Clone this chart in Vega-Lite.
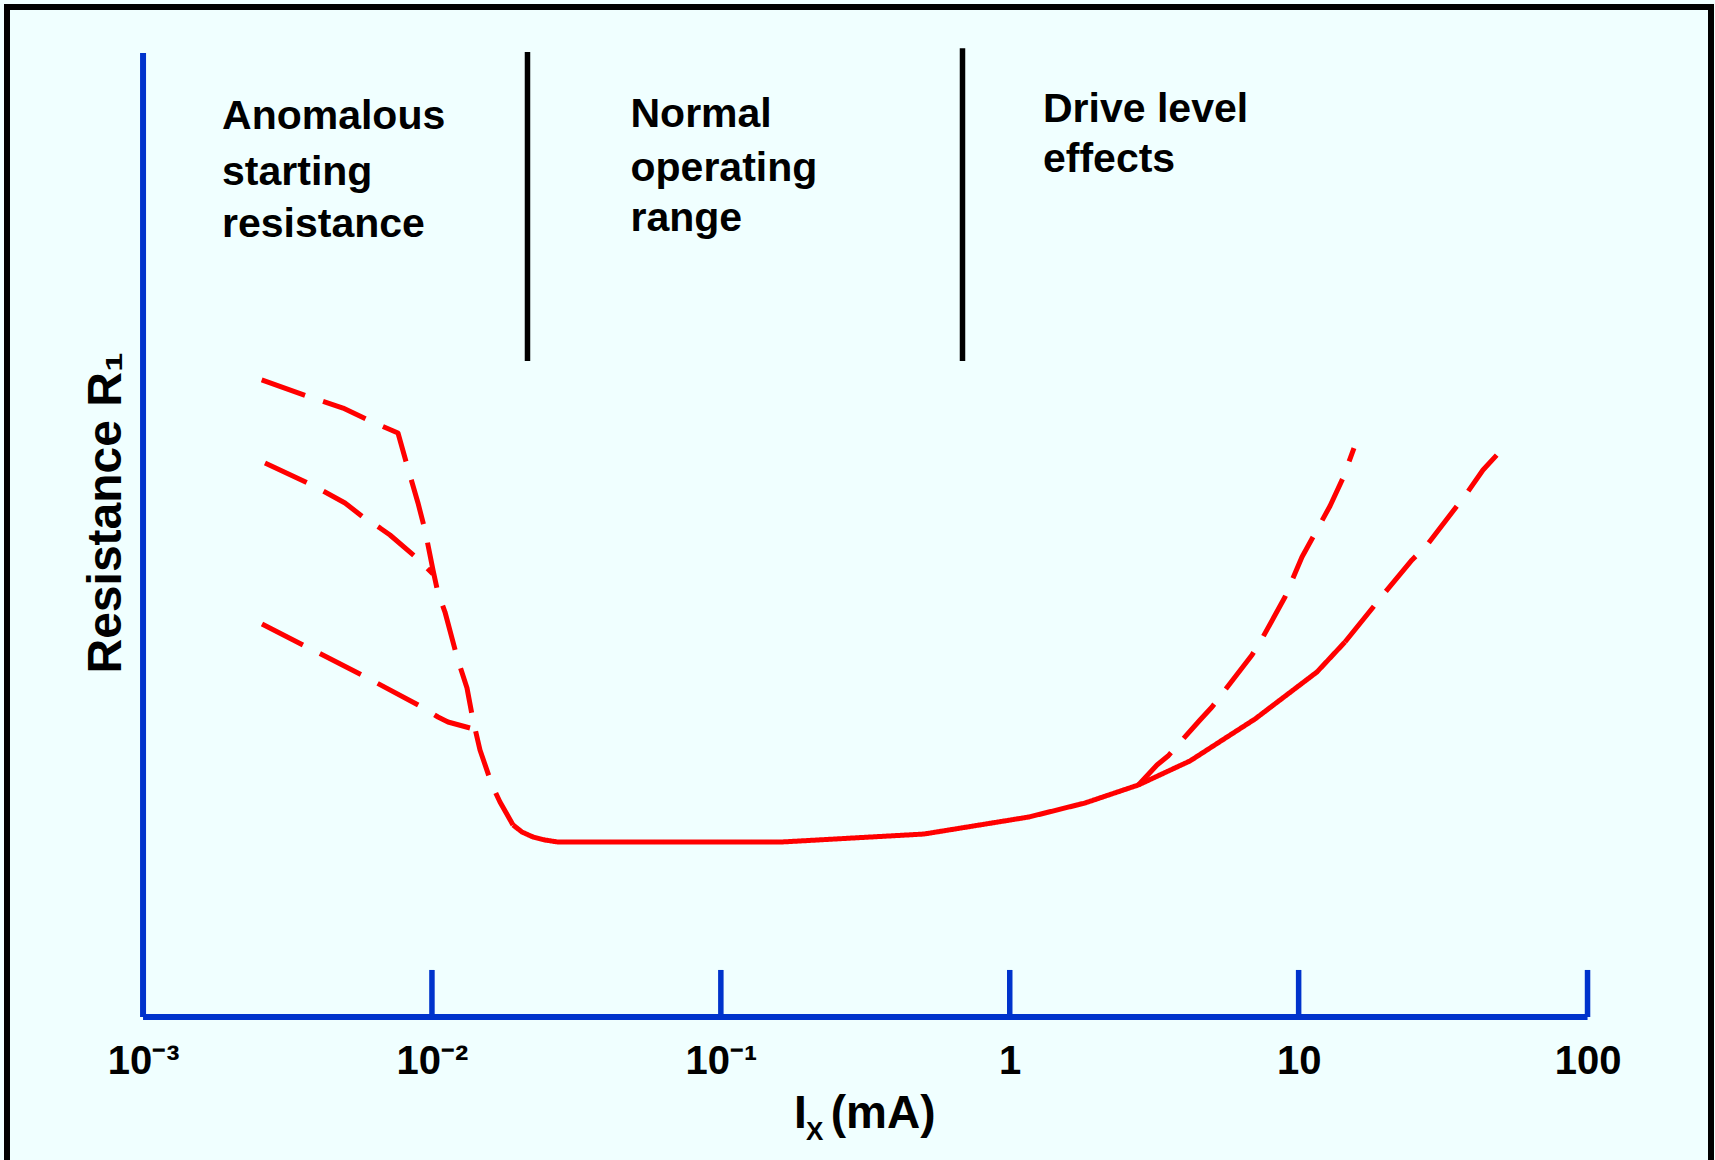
{
  "$schema": "https://vega.github.io/schema/vega-lite/v6.json",
  "width": 1704,
  "height": 1160,
  "autosize": {"type": "none"},
  "padding": {"left": 7, "top": 7, "right": 4, "bottom": -7},
  "background": "#F0FFFF",
  "config": {
    "view": {"stroke": "#000000", "strokeWidth": 6},
    "font": "Liberation Sans"
  },
  "datasets": {
    "axisLines": [
      {"x": 0.001, "x2": 100, "y": 0, "y2": 0},
      {"x": 0.001, "x2": 0.001, "y": 0, "y2": 100}
    ],
    "decadeTicks": [
      {"x": 0.01, "y": 0},
      {"x": 0.1, "y": 0},
      {"x": 1, "y": 0},
      {"x": 10, "y": 0},
      {"x": 100, "y": 0}
    ],
    "regions": [
      {"x": 0.021415, "y": 68.05, "y2": 100.1},
      {"x": 0.68622, "y": 68.05, "y2": 100.5}
    ],
    "curves": [
      {"series": "start-high", "kind": "projected", "i": 1, "x": 0.0025745, "y": 66.08},
      {"series": "start-high", "kind": "projected", "i": 2, "x": 0.0036852, "y": 64.42},
      {"series": "start-high", "kind": "projected", "i": 3, "x": 0.0049217, "y": 63.17},
      {"series": "start-high", "kind": "projected", "i": 4, "x": 0.0060068, "y": 61.93},
      {"series": "start-high", "kind": "projected", "i": 5, "x": 0.0076294, "y": 60.58},
      {"series": "start-high", "kind": "projected", "i": 6, "x": 0.0081967, "y": 57.26},
      {"series": "start-high", "kind": "projected", "i": 7, "x": 0.0089477, "y": 53.32},
      {"series": "start-high", "kind": "projected", "i": 8, "x": 0.0094610, "y": 50.52},
      {"series": "start-high", "kind": "projected", "i": 9, "x": 0.010084, "y": 46.37},
      {"series": "start-high", "kind": "projected", "i": 10, "x": 0.010494, "y": 43.98},
      {"series": "start-high", "kind": "projected", "i": 11, "x": 0.011096, "y": 42.01},
      {"series": "start-high", "kind": "projected", "i": 12, "x": 0.012210, "y": 37.34},
      {"series": "start-high", "kind": "projected", "i": 13, "x": 0.013223, "y": 34.13},
      {"series": "start-high", "kind": "projected", "i": 14, "x": 0.013871, "y": 30.81},
      {"series": "start-high", "kind": "projected", "i": 15, "x": 0.014666, "y": 27.70},
      {"series": "start-high", "kind": "projected", "i": 16, "x": 0.016138, "y": 24.07},
      {"series": "start-high", "kind": "projected", "i": 17, "x": 0.017200, "y": 22.30},
      {"series": "start-high", "kind": "projected", "i": 18, "x": 0.019082, "y": 19.92},

      {"series": "start-mid", "kind": "projected", "i": 1, "x": 0.0026432, "y": 57.47},
      {"series": "start-mid", "kind": "projected", "i": 2, "x": 0.0037236, "y": 55.39},
      {"series": "start-mid", "kind": "projected", "i": 3, "x": 0.0042638, "y": 54.46},
      {"series": "start-mid", "kind": "projected", "i": 4, "x": 0.0050007, "y": 53.32},
      {"series": "start-mid", "kind": "projected", "i": 5, "x": 0.0057722, "y": 51.87},
      {"series": "start-mid", "kind": "projected", "i": 6, "x": 0.0066096, "y": 50.73},
      {"series": "start-mid", "kind": "projected", "i": 7, "x": 0.0071580, "y": 50.00},
      {"series": "start-mid", "kind": "projected", "i": 8, "x": 0.0088767, "y": 47.61},
      {"series": "start-mid", "kind": "projected", "i": 9, "x": 0.010084, "y": 45.95},

      {"series": "start-low", "kind": "projected", "i": 1, "x": 0.0025807, "y": 40.77},
      {"series": "start-low", "kind": "projected", "i": 2, "x": 0.0035781, "y": 38.59},
      {"series": "start-low", "kind": "projected", "i": 3, "x": 0.0057264, "y": 35.48},
      {"series": "start-low", "kind": "projected", "i": 4, "x": 0.0090916, "y": 32.26},
      {"series": "start-low", "kind": "projected", "i": 5, "x": 0.010494, "y": 31.12},
      {"series": "start-low", "kind": "projected", "i": 6, "x": 0.011365, "y": 30.60},
      {"series": "start-low", "kind": "projected", "i": 7, "x": 0.013543, "y": 29.98},

      {"series": "main", "kind": "measured", "i": 1, "x": 0.019082, "y": 19.92},
      {"series": "main", "kind": "measured", "i": 2, "x": 0.020499, "y": 19.19},
      {"series": "main", "kind": "measured", "i": 3, "x": 0.022377, "y": 18.67},
      {"series": "main", "kind": "measured", "i": 4, "x": 0.024620, "y": 18.36},
      {"series": "main", "kind": "measured", "i": 5, "x": 0.027312, "y": 18.15},
      {"series": "main", "kind": "measured", "i": 6, "x": 0.16151, "y": 18.15},
      {"series": "main", "kind": "measured", "i": 7, "x": 0.50487, "y": 18.98},
      {"series": "main", "kind": "measured", "i": 8, "x": 1.1659, "y": 20.75},
      {"series": "main", "kind": "measured", "i": 9, "x": 1.8219, "y": 22.20},
      {"series": "main", "kind": "measured", "i": 10, "x": 2.7884, "y": 24.07},
      {"series": "main", "kind": "measured", "i": 11, "x": 4.2064, "y": 26.56},
      {"series": "main", "kind": "measured", "i": 12, "x": 7.0618, "y": 30.91},
      {"series": "main", "kind": "measured", "i": 13, "x": 11.574, "y": 35.79},
      {"series": "main", "kind": "measured", "i": 14, "x": 14.468, "y": 38.90},

      {"series": "drive-low", "kind": "projected", "i": 1, "x": 14.468, "y": 38.90},
      {"series": "drive-low", "kind": "projected", "i": 2, "x": 19.584, "y": 43.78},
      {"series": "drive-low", "kind": "projected", "i": 3, "x": 24.684, "y": 47.41},
      {"series": "drive-low", "kind": "projected", "i": 4, "x": 27.818, "y": 48.96},
      {"series": "drive-low", "kind": "projected", "i": 5, "x": 38.249, "y": 54.36},
      {"series": "drive-low", "kind": "projected", "i": 6, "x": 43.457, "y": 56.74},
      {"series": "drive-low", "kind": "projected", "i": 7, "x": 51.809, "y": 59.23},

      {"series": "drive-high", "kind": "projected", "i": 1, "x": 2.7884, "y": 24.07},
      {"series": "drive-high", "kind": "projected", "i": 2, "x": 3.2337, "y": 26.14},
      {"series": "drive-high", "kind": "projected", "i": 3, "x": 3.5301, "y": 27.07},
      {"series": "drive-high", "kind": "projected", "i": 4, "x": 4.5560, "y": 30.81},
      {"series": "drive-high", "kind": "projected", "i": 5, "x": 5.0132, "y": 32.16},
      {"series": "drive-high", "kind": "projected", "i": 6, "x": 6.8951, "y": 37.55},
      {"series": "drive-high", "kind": "projected", "i": 7, "x": 7.5262, "y": 39.42},
      {"series": "drive-high", "kind": "projected", "i": 8, "x": 8.9692, "y": 43.57},
      {"series": "drive-high", "kind": "projected", "i": 9, "x": 10.270, "y": 47.72},
      {"series": "drive-high", "kind": "projected", "i": 10, "x": 11.212, "y": 49.79},
      {"series": "drive-high", "kind": "projected", "i": 11, "x": 12.843, "y": 53.01},
      {"series": "drive-high", "kind": "projected", "i": 12, "x": 14.239, "y": 55.91},
      {"series": "drive-high", "kind": "projected", "i": 13, "x": 15.543, "y": 59.02}
    ],
    "regionLabels": [
      {"label": "Anomalous", "x": 0.0018765, "y": 92.08},
      {"label": "starting", "x": 0.0018765, "y": 86.31},
      {"label": "resistance", "x": 0.0018765, "y": 80.88},
      {"label": "Normal", "x": 0.048671, "y": 92.35},
      {"label": "operating", "x": 0.048671, "y": 86.75},
      {"label": "range", "x": 0.048671, "y": 81.57},
      {"label": "Drive level", "x": 1.3035, "y": 92.87},
      {"label": "effects", "x": 1.3035, "y": 87.66}
    ],
    "xTitle": [
      {"label": "I", "x": 0.17915, "y": -11.48},
      {"label": "(mA)", "x": 0.24020, "y": -11.48}
    ],
    "xTitleSub": [
      {"label": "X", "x": 0.19713, "y": -12.76}
    ]
  },
  "encoding": {
    "x": {
      "field": "x",
      "type": "quantitative",
      "scale": {"type": "log", "domain": [0.00033813, 267.52], "nice": false},
      "axis": {
        "orient": "bottom",
        "offset": -150,
        "values": [0.001, 0.01, 0.1, 1, 10, 100],
        "labelExpr": "datum.value < 0.005 ? '10⁻³' : datum.value < 0.05 ? '10⁻²' : datum.value < 0.5 ? '10⁻¹' : datum.value < 5 ? '1' : datum.value < 50 ? '10' : '100'",
        "domain": false,
        "ticks": false,
        "tickSize": 0,
        "grid": false,
        "labelPadding": 24,
        "labelFontSize": 40,
        "labelFont": "Liberation Sans",
        "labelFontWeight": "bold",
        "labelColor": "#000000",
        "labelFlush": false,
        "labelOverlap": false,
        "title": null
      }
    },
    "y": {
      "field": "y",
      "type": "quantitative",
      "scale": {"domain": [-15.56, 104.77], "nice": false, "zero": false},
      "axis": {
        "orient": "left",
        "offset": -136,
        "domain": false,
        "ticks": false,
        "labels": false,
        "grid": false,
        "minExtent": 0,
        "maxExtent": 0,
        "title": "Resistance R₁",
        "titleFont": "Liberation Sans",
        "titleFontSize": 48,
        "titleFontWeight": "bold",
        "titleColor": "#000000",
        "titleAngle": 270,
        "titleAlign": "left",
        "titleBaseline": "alphabetic",
        "titleY": 666,
        "titlePadding": 23
      }
    }
  },
  "layer": [
    {
      "data": {"name": "axisLines"},
      "mark": {"type": "rule", "color": "#0033CC", "strokeWidth": 6},
      "encoding": {
        "x2": {"field": "x2"},
        "y2": {"field": "y2"}
      }
    },
    {
      "data": {"name": "decadeTicks"},
      "mark": {"type": "rule", "color": "#0033CC", "strokeWidth": 5.5},
      "encoding": {
        "y2": {"datum": 4.88}
      }
    },
    {
      "data": {"name": "regions"},
      "mark": {"type": "rule", "color": "#000000", "strokeWidth": 5.5},
      "encoding": {
        "y2": {"field": "y2"}
      }
    },
    {
      "data": {"name": "curves"},
      "mark": {"type": "line", "color": "#FF0000", "strokeWidth": 5, "strokeJoin": "round"},
      "encoding": {
        "detail": {"field": "series", "type": "nominal"},
        "order": {"field": "i", "type": "quantitative"},
        "strokeDash": {
          "field": "kind",
          "type": "nominal",
          "scale": {"domain": ["projected", "measured"], "range": [[46, 19], [1, 0]]},
          "legend": null
        }
      }
    },
    {
      "data": {"name": "regionLabels"},
      "mark": {"type": "text", "align": "left", "baseline": "alphabetic", "font": "Liberation Sans", "fontSize": 41, "fontWeight": "bold", "color": "#000000"},
      "encoding": {
        "text": {"field": "label"}
      }
    },
    {
      "data": {"name": "xTitle"},
      "mark": {"type": "text", "align": "left", "baseline": "alphabetic", "font": "Liberation Sans", "fontSize": 46, "fontWeight": "bold", "color": "#000000"},
      "encoding": {
        "text": {"field": "label"}
      }
    },
    {
      "data": {"name": "xTitleSub"},
      "mark": {"type": "text", "align": "left", "baseline": "alphabetic", "font": "Liberation Sans", "fontSize": 26, "fontWeight": "bold", "color": "#000000"},
      "encoding": {
        "text": {"field": "label"}
      }
    }
  ]
}
